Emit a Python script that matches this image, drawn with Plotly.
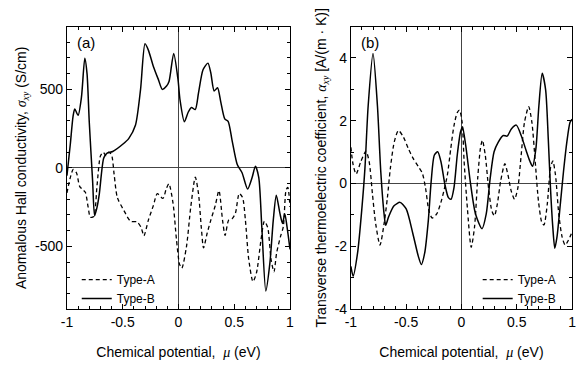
import plotly.graph_objects as go

# ---------------- data ----------------
# Panel (a): anomalous Hall conductivity sigma_xy (S/cm) vs chemical potential mu (eV)
mu_a_typeA = [-1.00, -0.97, -0.944, -0.915, -0.885, -0.856, -0.835, -0.81, -0.79, -0.76, -0.73, -0.70,
              -0.675, -0.65, -0.625, -0.60, -0.577, -0.548, -0.49, -0.43, -0.37, -0.335, -0.31, -0.27,
              -0.225, -0.19, -0.14, -0.11, -0.086, -0.048, -0.019, 0.01, 0.03, 0.072, 0.11, 0.151,
              0.18, 0.204, 0.225, 0.257, 0.29, 0.33, 0.363, 0.395, 0.418, 0.45, 0.48, 0.51, 0.545,
              0.575, 0.60, 0.63, 0.668, 0.70, 0.74, 0.77, 0.80, 0.83, 0.856, 0.88, 0.915, 0.94, 0.965,
              0.98, 1.00]
sigma_typeA = [-160, -62, -10, -31, -120, -140, -156, -250, -315, -310, -110, 75,
               100, 78, 100, 83, -42, -190, -271, -340, -345, -380, -433, -333,
               -240, -165, -195, -135, -101, -230, -450, -615, -640, -500, -250, -60,
               -167, -375, -510, -417, -333, -240, -145, -333, -430, -333, -325, -290, -163,
               -190, -333, -583, -725, -667, -458, -340, -380, -583, -662, -542, -437, -375, -140,
               -125, -250]

mu_a_typeB = [-1.00, -0.97, -0.945, -0.93, -0.90, -0.87, -0.84, -0.82, -0.80, -0.77, -0.752, -0.73,
              -0.71, -0.67, -0.64, -0.59, -0.50, -0.445, -0.386, -0.34, -0.30, -0.27, -0.225, -0.18,
              -0.145, -0.107, -0.084, -0.043, -0.004, 0.013, 0.053, 0.087, 0.116, 0.15, 0.18, 0.22,
              0.264, 0.29, 0.32, 0.35, 0.38, 0.415, 0.445, 0.48, 0.527, 0.57, 0.62, 0.66, 0.69, 0.72,
              0.747, 0.783, 0.82, 0.85, 0.877, 0.91, 0.933, 0.953, 0.973, 1.00]
sigma_typeB = [-50, 150, 330, 375, 335, 450, 698, 600, 292, -83, -305, -250,
               -167, 62, 94, 104, 150, 188, 271, 500, 790, 750, 646, 562,
               500, 521, 552, 729, 562, 437, 294, 354, 385, 371, 479, 625,
               667, 604, 490, 510, 417, 312, 296, 177, 21, -31, -135, -62, 10, -62,
               -375, -785, -604, -333, -175, -292, -354, -292, -375, -520]

# Panel (b): transverse thermoelectric coefficient alpha_xy [A/(m K)] vs mu (eV)
mu_b_typeA = [-1.00, -0.98, -0.953, -0.91, -0.864, -0.835, -0.805, -0.776, -0.737, -0.70, -0.67,
              -0.643, -0.608, -0.57, -0.525, -0.48, -0.437, -0.39, -0.354, -0.325, -0.295, -0.265,
              -0.224, -0.186, -0.156, -0.127, -0.097, -0.068, -0.038, -0.018, 0.006, 0.024, 0.053,
              0.088, 0.118, 0.147, 0.171, 0.189, 0.215, 0.245, 0.274, 0.298, 0.324, 0.354, 0.392,
              0.42, 0.45, 0.48, 0.51, 0.54, 0.57, 0.608, 0.637, 0.667, 0.696, 0.726, 0.746, 0.776,
              0.805, 0.826, 0.85, 0.88, 0.91, 0.938, 0.968, 1.00]
alpha_typeA = [1.15, 0.6, 0.3, 0.70, 1.03, 0.70, -0.34, -1.28, -1.96, -1.28, -0.45,
               0.49, 1.32, 1.69, 1.48, 1.11, 0.80, 0.54, 0.33, -0.14, -0.86, -1.1,
               -0.97, -0.60, -0.19, 0.28, 1.11, 1.84, 2.26, 2.34, 1.95, 0.70, -0.76,
               -2.03, -1.39, 0.18, 1.11, 1.38, 0.91, -0.14, -0.86, -1.03, -0.66, 0.07, 0.63,
               0.28, -0.24, -0.50, -0.14, 0.91, 1.95, 2.45, 1.95, 0.70, -0.55, -1.23, -1.32, -0.66,
               0.49, 0.72, 0.28, -0.97, -1.70, -1.96, -1.80, -1.55]

mu_b_typeB = [-1.00, -0.98, -0.94, -0.90, -0.873, -0.844, -0.80, -0.76, -0.73, -0.70, -0.685,
              -0.66, -0.61, -0.555, -0.50, -0.44, -0.39, -0.363, -0.333, -0.30, -0.274, -0.245,
              -0.215, -0.186, -0.15, -0.118, -0.094, -0.068, -0.038, -0.009, 0.009, 0.038, 0.083,
              0.127, 0.186, 0.224, 0.26, 0.295, 0.333, 0.378, 0.413, 0.451, 0.496, 0.54, 0.584,
              0.62, 0.643, 0.673, 0.70, 0.73, 0.761, 0.785, 0.805, 0.826, 0.844, 0.864, 0.894,
              0.923, 0.953, 0.982, 1.00]
alpha_typeB = [-2.64, -2.95, -2.22, -0.76, 0.49, 2.47, 4.14, 2.47, 0.39, -0.97, -1.33,
               -1.07, -0.71, -0.60, -0.81, -1.59, -2.32, -2.58, -2.22, -1.18, 0.07, 0.91,
               1.01, 0.70, -0.03, -0.45, -0.50, -0.14, 0.91, 1.64, 1.80, 1.22, -0.03,
               -0.97, -1.44, -0.97, 0.18, 1.01, 1.32, 1.53, 1.51, 1.74, 1.86, 1.53, 1.06,
               0.70, 0.55, 1.11, 2.47, 3.51, 2.99, 1.43, -0.14, -1.39, -2.06, -1.70, -0.66,
               0.39, 1.32, 1.95, 2.05]

x_tickvals = [-1, -0.5, 0, 0.5, 1]
x_ticktext = ["-1", "-0.5", "0", "0.5", "1"]
ya_tickvals = [-500, 0, 500]
ya_ticktext = ["-500", "0", "500"]
yb_tickvals = [-4, -2, 0, 2, 4]
yb_ticktext = ["-4", "-2", "0", "2", "4"]

# ---------------- figure ----------------
FONT = "Liberation Sans, Arial, sans-serif"
SERIF = "Liberation Serif, Times New Roman, serif"
DASH = "4px,3px"
FS = 14

fig = go.Figure()
fig.add_trace(go.Scatter(x=mu_a_typeA, y=sigma_typeA, mode="lines", name="Type-A",
                         line=dict(color="black", width=1.3, dash=DASH, shape="spline", smoothing=0.7),
                         xaxis="x", yaxis="y", legend="legend"))
fig.add_trace(go.Scatter(x=mu_a_typeB, y=sigma_typeB, mode="lines", name="Type-B",
                         line=dict(color="black", width=1.5, shape="spline", smoothing=0.7),
                         xaxis="x", yaxis="y", legend="legend"))
fig.add_trace(go.Scatter(x=mu_b_typeA, y=alpha_typeA, mode="lines", name="Type-A",
                         line=dict(color="black", width=1.3, dash=DASH, shape="spline", smoothing=0.7),
                         xaxis="x2", yaxis="y2", legend="legend2"))
fig.add_trace(go.Scatter(x=mu_b_typeB, y=alpha_typeB, mode="lines", name="Type-B",
                         line=dict(color="black", width=1.5, shape="spline", smoothing=0.7),
                         xaxis="x2", yaxis="y2", legend="legend2"))

mu_title = f'Chemical potential,  <span style="font-family:{SERIF}"><i>μ</i></span> (eV)'

common_x = dict(range=[-1, 1], tickvals=x_tickvals, ticktext=x_ticktext, ticks="inside", ticklen=5,
                tickcolor="black", showline=True, linecolor="black", linewidth=1, mirror="ticks",
                showgrid=False, zeroline=True, zerolinecolor="#444", zerolinewidth=1,
                minor=dict(dtick=0.1, ticks="inside", ticklen=3, tickcolor="black", showgrid=False),
                tickfont=dict(size=FS, color="black"),
                title=dict(text=mu_title, font=dict(size=FS, color="black"), standoff=18))
common_y = dict(ticks="inside", ticklen=5, tickcolor="black", showline=True, linecolor="black",
                linewidth=1, mirror="ticks", showgrid=False, zeroline=True, zerolinecolor="#444",
                zerolinewidth=1, tickfont=dict(size=FS, color="black"))

fig.update_layout(
    width=577, height=367, margin=dict(l=0, r=0, t=0, b=0),
    paper_bgcolor="white", plot_bgcolor="white",
    font=dict(family=FONT, size=FS, color="black"),
    showlegend=True,
    xaxis=dict(domain=[0.1075, 0.5009], anchor="y", **common_x),
    yaxis=dict(domain=[0.139, 0.926], anchor="x", range=[-900, 900], tickvals=ya_tickvals,
               ticktext=ya_ticktext,
               minor=dict(dtick=100, ticks="inside", ticklen=3, tickcolor="black", showgrid=False),
               title=dict(text=f'Anomalous Hall conductivity, <span style="font-family:{SERIF}"><i>σ<sub>xy</sub></i></span> (S/cm)',
                          font=dict(size=FS, color="black"), standoff=5),
               **common_y),
    xaxis2=dict(domain=[0.6083, 0.9983], anchor="y2", **common_x),
    yaxis2=dict(domain=[0.139, 0.926], anchor="x2", range=[-4, 5], tickvals=yb_tickvals,
                ticktext=yb_ticktext,
                minor=dict(dtick=1, ticks="inside", ticklen=3, tickcolor="black", showgrid=False),
                title=dict(text=f'Transverse thermoelectric coefficient, <span style="font-family:{SERIF}"><i>α<sub>xy</sub></i></span> [A/(m · K)]',
                           font=dict(size=FS, color="black"), standoff=4),
                **common_y),
    legend=dict(x=72 / 577, y=1 - 271 / 367, xanchor="left", yanchor="top", bgcolor="rgba(0,0,0,0)",
                font=dict(size=12, color="black"), tracegroupgap=0, itemwidth=30),
    legend2=dict(x=480 / 577, y=1 - 271 / 367, xanchor="left", yanchor="top", bgcolor="rgba(0,0,0,0)",
                 font=dict(size=12, color="black"), tracegroupgap=0, itemwidth=30),
    annotations=[
        dict(text="(a)", x=0.035, y=0.98, xref="x domain", yref="y domain", xanchor="left", yanchor="top",
             showarrow=False, font=dict(size=15, color="black")),
        dict(text="(b)", x=0.035, y=0.98, xref="x2 domain", yref="y2 domain", xanchor="left", yanchor="top",
             showarrow=False, font=dict(size=15, color="black")),
    ],
)

fig.write_html("out.html")
